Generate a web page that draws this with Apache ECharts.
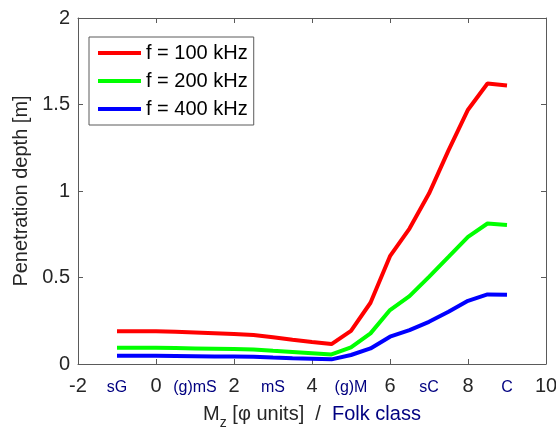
<!DOCTYPE html>
<html>
<head>
<meta charset="utf-8">
<script src="https://cdn.jsdelivr.net/npm/echarts@6/dist/echarts.min.js"></script>
<style>
html,body{margin:0;padding:0;background:#fff;}
#c{width:556px;height:432px;}
</style>
</head>
<body>
<div id="c"></div>
<script>
var xValues = [-1,-0.5,0,0.5,1,1.5,2,2.5,3,3.5,4,4.5,5,5.5,6,6.5,7,7.5,8,8.5,9];
var red100 = [0.19,0.19,0.19,0.186,0.182,0.178,0.174,0.168,0.155,0.14,0.127,0.115,0.192,0.354,0.623,0.783,0.985,1.235,1.47,1.621,1.61];
var green200 = [0.094,0.094,0.094,0.092,0.090,0.088,0.086,0.084,0.076,0.069,0.062,0.055,0.096,0.177,0.312,0.392,0.504,0.619,0.735,0.812,0.804];
var blue400 = [0.047,0.047,0.047,0.046,0.045,0.044,0.043,0.042,0.037,0.033,0.030,0.027,0.052,0.09,0.158,0.196,0.244,0.302,0.365,0.402,0.40];
var seriesNames = ['f = 100 kHz','f = 200 kHz','f = 400 kHz'];
var xTicks = [-2,0,2,4,6,8,10];
var yTicks = [0,0.5,1,1.5,2];
var folkPositions = [-1,1,3,5,7,9];
var folkLabels = ['sG','(g)mS','mS','(g)M','sC','C'];

function pairs(ys){ return xValues.map(function(x,i){ return [x, ys[i]]; }); }
var FONT = "'Liberation Sans', Arial, sans-serif";
var TXT = '#262626';
var AX = '#5a5a5a';
var FOLK = '#000080';

var chart = echarts.init(document.getElementById('c'), null, {renderer:'canvas'});
var lineAx = {show:true, onZero:false, lineStyle:{color:AX, width:1}};
var tickIn = {show:true, inside:true, length:5, lineStyle:{color:AX}};
chart.setOption({
  backgroundColor:'#fff',
  animation:false,
  textStyle:{fontFamily:FONT},
  grid:{left:78, right:10, top:18, bottom:68, containLabel:false, outerBoundsMode:'none'},
  legend:{
    orient:'vertical', left:89, top:37,
    padding:[6,6,6,9],
    itemWidth:43, itemHeight:4, itemGap:8,
    icon:'rect',
    backgroundColor:'#fff',
    borderColor:AX, borderWidth:1, borderRadius:0,
    textStyle:{fontSize:20, color:'#000', fontFamily:FONT, lineHeight:20},
    data:seriesNames
  },
  xAxis:[
    {type:'value', position:'bottom', min:xTicks[0], max:xTicks[xTicks.length-1], interval:2,
     axisLine:lineAx, axisTick:tickIn, splitLine:{show:false},
     axisLabel:{fontSize:20, color:TXT, margin:12, fontFamily:FONT},
     name:'{a|M}{s|z}{a| [φ units]  /  }{b|Folk class}',
     nameLocation:'middle', nameGap:34,
     nameTextStyle:{fontFamily:FONT, rich:{
        a:{fontSize:20, color:TXT, lineHeight:32, fontFamily:FONT},
        s:{fontSize:14, color:TXT, lineHeight:14, verticalAlign:'bottom', fontFamily:FONT},
        b:{fontSize:20, color:FOLK, lineHeight:32, fontFamily:FONT}}}
    },
    {type:'value', position:'bottom', min:-2, max:10, interval:1,
     axisLine:{show:false, onZero:false}, axisTick:{show:false}, splitLine:{show:false},
     axisLabel:{fontSize:16, color:FOLK, margin:16, fontFamily:FONT,
       formatter:function(v){ var i = folkPositions.indexOf(v); return i>=0 ? folkLabels[i] : ''; }}
    },
    {type:'value', position:'top', min:-2, max:10, interval:2,
     axisLine:lineAx, axisTick:tickIn, axisLabel:{show:false}, splitLine:{show:false}}
  ],
  yAxis:[
    {type:'value', position:'left', min:yTicks[0], max:yTicks[yTicks.length-1], interval:0.5,
     axisLine:lineAx, axisTick:tickIn, splitLine:{show:false},
     axisLabel:{fontSize:20, color:TXT, margin:8, fontFamily:FONT},
     name:'Penetration depth [m]', nameLocation:'middle', nameGap:42,
     nameTextStyle:{fontSize:20, color:TXT, fontFamily:FONT}
    },
    {type:'value', position:'right', min:0, max:2, interval:0.5,
     axisLine:lineAx, axisTick:tickIn, axisLabel:{show:false}, splitLine:{show:false}}
  ],
  series:[
    {name:seriesNames[0], type:'line', data:pairs(red100), symbol:'none', color:'#ff0000', lineStyle:{width:4, color:'#ff0000'}, xAxisIndex:0, yAxisIndex:0},
    {name:seriesNames[1], type:'line', data:pairs(green200), symbol:'none', color:'#00ff00', lineStyle:{width:4, color:'#00ff00'}, xAxisIndex:0, yAxisIndex:0},
    {name:seriesNames[2], type:'line', data:pairs(blue400), symbol:'none', color:'#0000ff', lineStyle:{width:4, color:'#0000ff'}, xAxisIndex:0, yAxisIndex:0}
  ]
});
</script>
</body>
</html>
